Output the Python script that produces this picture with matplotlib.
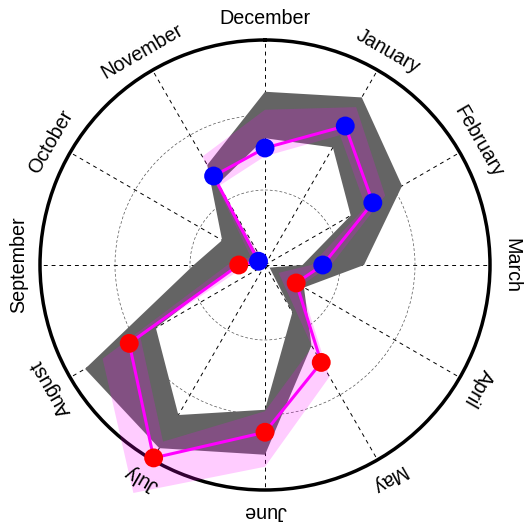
import numpy as np
import matplotlib
matplotlib.use('Agg')
import matplotlib.pyplot as plt

plt.rcParams['font.family'] = ['Liberation Sans', 'DejaVu Sans']

months = ['December', 'January', 'February', 'March', 'April', 'May',
          'June', 'July', 'August', 'September', 'October', 'November']
values = [1.56, 2.14, 1.66, 0.77, 0.48, 1.50, 2.23, 2.97, 2.09, 0.35, 0.10, 1.37]
range_low = [1.69, 1.81, 1.32, 0.50, 0.07, 0.73, 1.93, 2.31, 1.68, 0.38, 0.05, 1.25]
range_high = [2.31, 2.58, 2.11, 1.32, 0.60, 1.24, 2.53, 2.82, 2.77, 0.95, 0.66, 1.54]
band_low = [1.45, 2.00, 1.55, 0.62, 0.21, 1.26, 1.95, 2.72, 1.92, 0.24, 0.00, 1.22]
band_high = [2.07, 2.43, 1.85, 0.88, 0.55, 1.72, 2.69, 3.51, 2.50, 0.50, 0.22, 1.67]
dot_colors = ['blue'] * 4 + ['red'] * 6 + ['blue'] * 2

theta = np.deg2rad(np.arange(12) * 30.0)
theta_c = np.append(theta, theta[0])


def ring(lo, hi):
    # outer ring, then inner ring backwards -> hole in the middle
    lo_c = np.append(lo, lo[0])
    hi_c = np.append(hi, hi[0])
    return np.concatenate([theta_c, theta_c[::-1]]), np.concatenate([hi_c, lo_c[::-1]])


fig = plt.figure(figsize=(5.26, 5.23), dpi=100)
ax = fig.add_axes([40 / 526, 33 / 523, 450 / 526, 450 / 523], projection='polar')
ax.set_theta_zero_location('N')
ax.set_theta_direction(-1)
ax.set_ylim(0, 3)

t, r = ring(range_low, range_high)
ax.fill(t, r, color='#646464', lw=0, zorder=2)
t, r = ring(band_low, band_high)
ax.fill(t, r, color='magenta', alpha=0.2, lw=0, zorder=3, clip_on=False)

ax.plot(theta_c, np.append(values, values[0]), color='magenta', lw=2.2, zorder=4, clip_on=False)
ax.scatter(theta, values, c=dot_colors, s=185, zorder=5, clip_on=False, edgecolors='none')

ax.set_xticks(theta)
ax.set_xticklabels([])
ax.set_yticks([1, 2])
ax.set_yticklabels([])
ax.xaxis.grid(True, color='black', linestyle=(0, (4, 4)), lw=0.7)
ax.yaxis.grid(True, color='#555555', linestyle=(0, (4, 3)), lw=0.5)
ax.spines['polar'].set_linewidth(2.5)
ax.spines['polar'].set_color('black')

for th, name in zip(theta, months):
    ax.text(th, 3.29, name, rotation=-np.rad2deg(th), rotation_mode='anchor',
            ha='center', va='center', fontsize=14.2)

fig.savefig('out.png', dpi=100)
